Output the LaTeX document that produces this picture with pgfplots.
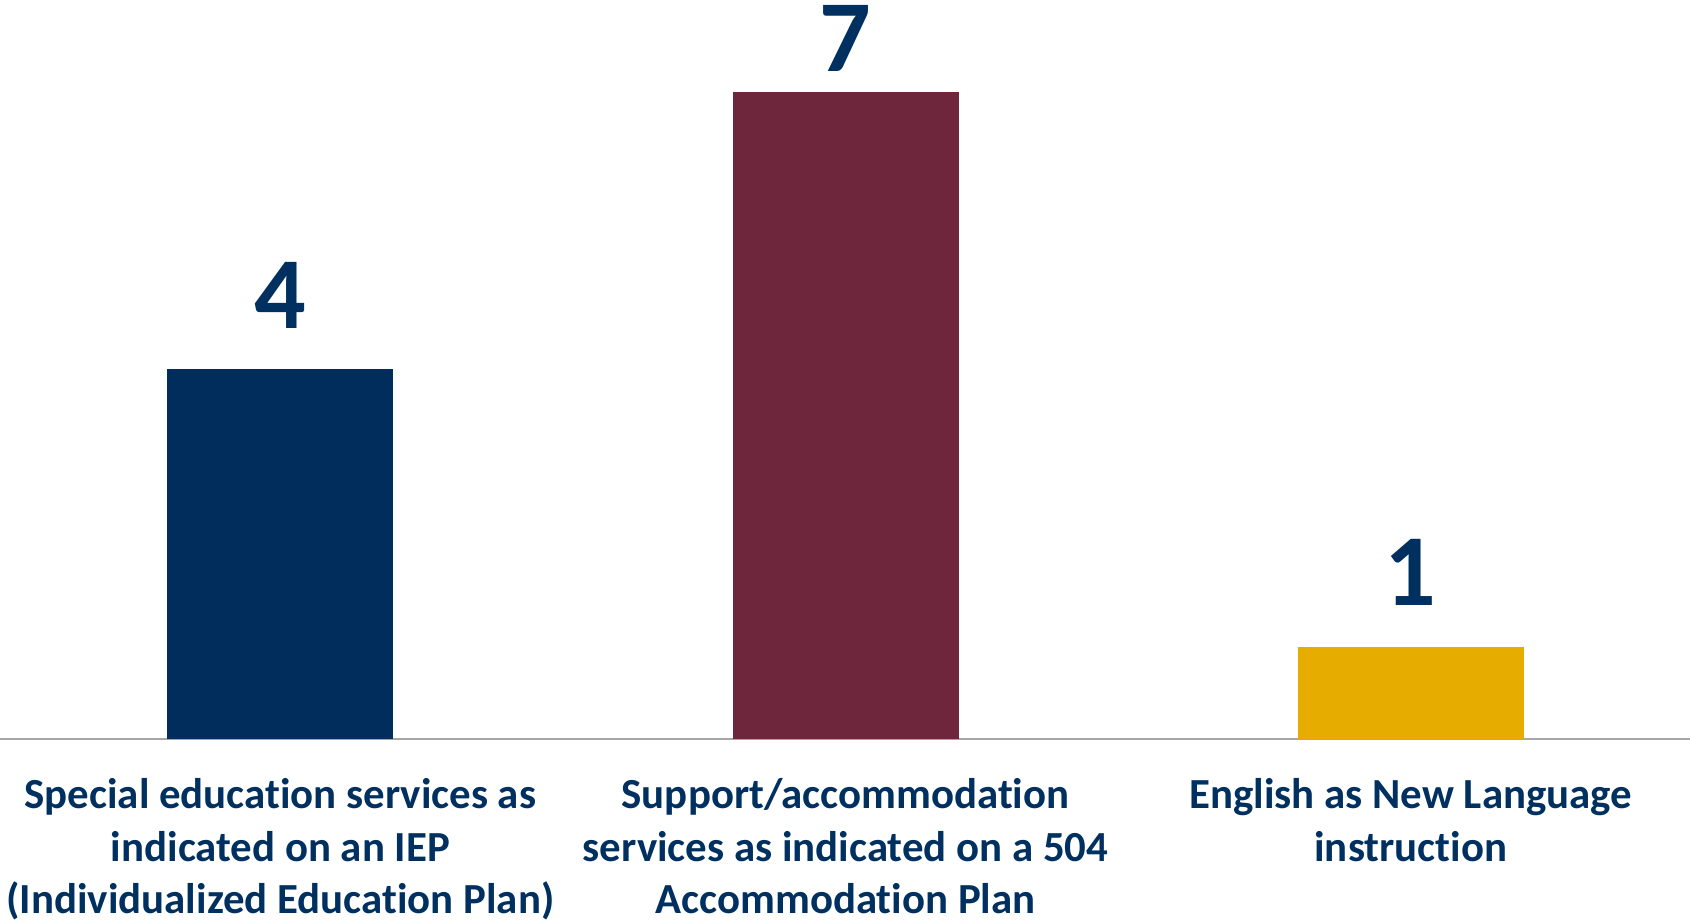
\documentclass[border=0pt]{standalone}
\usepackage{fontspec}
\setmainfont{Carlito}[Ligatures=NoCommon]
\usepackage{pgfplots}
\pgfplotsset{compat=1.18}

\definecolor{navy}{RGB}{0,45,92}
\definecolor{txtnavy}{RGB}{0,48,96}
\definecolor{maroon}{RGB}{110,38,61}
\definecolor{gold}{RGB}{230,172,0}

\begin{document}
\begin{tikzpicture}
  \begin{axis}[
    name=main,
    scale only axis,
    width=16.9cm,
    height=7.39cm,
    xmin=-0.496, xmax=2.494,
    ymin=0, ymax=8,
    axis x line*=bottom,
    axis y line=none,
    x axis line style={gray!70, line width=0.5pt},
    ybar,
    bar width=0.4,
    bar shift=0pt,
    xtick={0,1,2},
    major tick length=0pt,
    xticklabels={
      {Special education services as\\indicated on an IEP\\(Individualized Education Plan)},
      {Support/accommodation\\services as indicated on a 504\\Accommodation Plan},
      {English as New Language\\instruction}},
    xticklabel style={align=center, inner sep=0pt, anchor=north, yshift=-3.9mm,
      font=\fontsize{12.2}{14.9}\selectfont\bfseries, text=txtnavy},
    /pgf/number format/assume math mode=true,
    nodes near coords,
    nodes near coords style={font=\fontsize{29}{30}\selectfont\bfseries, text=txtnavy,
      anchor=south, inner sep=0pt, yshift=4mm},
  ]
    \addplot[fill=navy, draw=none] coordinates {(0,4)};
    \addplot[fill=maroon, draw=none,
      nodes near coords style={yshift=-2mm}] coordinates {(1,7)};
    \addplot[fill=gold, draw=none] coordinates {(2,1)};
  \end{axis}
  \pgfresetboundingbox
  \path[use as bounding box] ([yshift=-1.81cm]main.south west) rectangle (main.north east);
\end{tikzpicture}
\end{document}
